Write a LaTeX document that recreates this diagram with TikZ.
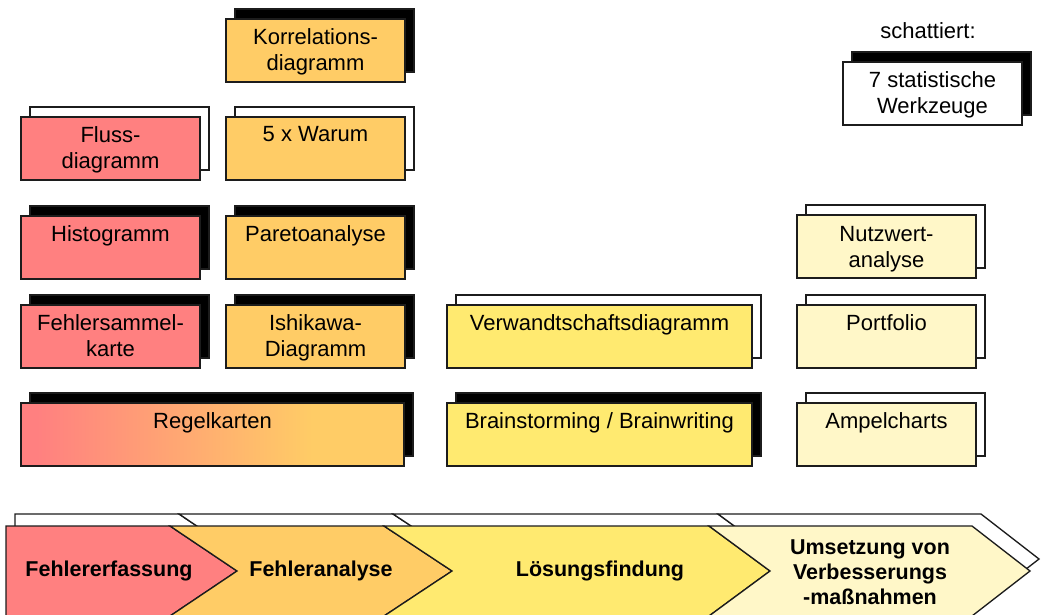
\documentclass[tikz,border=0pt]{standalone}
\usepackage{fontspec}
\setmainfont{Liberation Sans}
\usetikzlibrary{shadows,calc}

\definecolor{fehlred}{RGB}{255,128,128}
\definecolor{analorange}{RGB}{255,204,102}
\definecolor{loesyellow}{RGB}{255,234,112}
\definecolor{umscream}{RGB}{255,247,200}
\definecolor{edge}{RGB}{28,28,28}

% red fading into orange over the first three quarters
\pgfdeclarehorizontalshading{regelshade}{100bp}{color(0bp)=(fehlred); color(27bp)=(fehlred); color(63bp)=(analorange); color(100bp)=(analorange)}

\tikzset{
  card/.style={draw=edge, line width=1pt, inner sep=0pt, outer sep=0pt,
    anchor=north west, minimum height=47.25pt},
  cardS/.style={card, minimum width=134.25pt},
  cardM/.style={card, minimum width=228.75pt},
  cardL/.style={card, minimum width=287.25pt},
  hardshadow/.style={copy shadow={shadow xshift=6.75pt, shadow yshift=7.5pt,
    fill=black, draw=edge, line width=1pt}},
  softshadow/.style={copy shadow={shadow xshift=6.75pt, shadow yshift=7.5pt,
    fill=white, draw=edge, line width=1pt}},
  cardtext/.style={anchor=north, inner sep=0pt, align=center,
    font=\fontsize{16.5pt}{19.5pt}\selectfont},
  phase/.style={draw=edge, line width=1pt, line join=miter},
  phaseshadow/.style={draw=edge, line width=1pt, fill=white, xshift=6.75pt, yshift=9pt},
  phasetext/.style={inner sep=0pt, align=center,
    font=\fontsize{16.1pt}{18.75pt}\selectfont\bfseries},
}

\begin{document}
\begin{tikzpicture}[x=0.75pt, y=-0.75pt]
  \useasboundingbox (0,0) rectangle (1041,614);
  \clip (0,0) rectangle (1041,614);

  % legend
  \node[cardtext, anchor=center] (legend) at (928,31) {schattiert:};
  \node[cardS, hardshadow, fill=white] (werkz) at (843,62) {};
  \node[cardtext] (werkz-t) at ([yshift=-6.75pt]werkz.north) {7 statistische\\Werkzeuge};

  % column: error capture
  \node[cardS, softshadow, fill=fehlred] (fluss) at (21,117) {};
  \node[cardtext] (fluss-t) at ([yshift=-6.75pt]fluss.north) {Fluss-\\diagramm};
  \node[cardS, hardshadow, fill=fehlred] (hist) at (21,216) {};
  \node[cardtext] (hist-t) at ([yshift=-6.75pt]hist.north) {Histogramm};
  \node[cardS, hardshadow, fill=fehlred] (fsk) at (21,305) {};
  \node[cardtext] (fsk-t) at ([yshift=-6.75pt]fsk.north) {Fehlersammel-\\karte};

  % column: error analysis
  \node[cardS, hardshadow, fill=analorange] (korr) at (226,19) {};
  \node[cardtext] (korr-t) at ([yshift=-6.75pt]korr.north) {Korrelations-\\diagramm};
  \node[cardS, softshadow, fill=analorange] (warum) at (226,117) {};
  \node[cardtext] (warum-t) at ([yshift=-6.75pt]warum.north) {5 x Warum};
  \node[cardS, hardshadow, fill=analorange] (pareto) at (226,216) {};
  \node[cardtext] (pareto-t) at ([yshift=-6.75pt]pareto.north) {Paretoanalyse};
  \node[cardS, hardshadow, fill=analorange] (ishi) at (226,305) {};
  \node[cardtext] (ishi-t) at ([yshift=-6.75pt]ishi.north) {Ishikawa-\\Diagramm};

  % spanning both columns
  \node[cardL, hardshadow, shading=regelshade] (regel) at (21,403) {};
  \node[cardtext] (regel-t) at ([yshift=-6.75pt]regel.north) {Regelkarten};

  % column: finding solutions
  \node[cardM, softshadow, fill=loesyellow] (verw) at (447,305) {};
  \node[cardtext] (verw-t) at ([yshift=-6.75pt]verw.north) {Verwandtschaftsdiagramm};
  \node[cardM, hardshadow, fill=loesyellow] (brain) at (447,403) {};
  \node[cardtext] (brain-t) at ([yshift=-6.75pt]brain.north) {Brainstorming / Brainwriting};

  % column: implementation
  \node[cardS, softshadow, fill=umscream] (nutz) at (797,215) {};
  \node[cardtext] (nutz-t) at ([yshift=-8.25pt]nutz.north) {Nutzwert-\\analyse};
  \node[cardS, softshadow, fill=umscream] (portf) at (797,305) {};
  \node[cardtext] (portf-t) at ([yshift=-6.75pt]portf.north) {Portfolio};
  \node[cardS, softshadow, fill=umscream] (ampel) at (797,403) {};
  \node[cardtext] (ampel-t) at ([yshift=-6.75pt]ampel.north) {Ampelcharts};

  % phase chevrons: white copies behind
  \begin{scope}[phaseshadow]
    \draw[fill=white] (6,526) -- (170,526) -- (237,571) -- (170,616) -- (6,616) -- cycle;
    \draw[fill=white] (170,526) -- (384,526) -- (452,571) -- (384,616) -- (170,616) -- (237,571) -- cycle;
    \draw[fill=white] (384,526) -- (709,526) -- (770,571) -- (709,616) -- (384,616) -- (452,571) -- cycle;
    \draw[fill=white] (709,526) -- (972,526) -- (1030,571) -- (972,616) -- (709,616) -- (770,571) -- cycle;
  \end{scope}

  % phase chevrons
  \draw[phase, fill=fehlred] (6,526) -- (170,526) -- (237,571) -- (170,616) -- (6,616) -- cycle;
  \draw[phase, fill=analorange] (170,526) -- (384,526) -- (452,571) -- (384,616) -- (170,616) -- (237,571) -- cycle;
  \draw[phase, fill=loesyellow] (384,526) -- (709,526) -- (770,571) -- (709,616) -- (384,616) -- (452,571) -- cycle;
  \draw[phase, fill=umscream] (709,526) -- (972,526) -- (1030,571) -- (972,616) -- (709,616) -- (770,571) -- cycle;

  \node[phasetext] (ph1) at (109,571) {Fehlererfassung};
  \node[phasetext] (ph2) at (321,571) {Fehleranalyse};
  \node[phasetext] (ph3) at (600,571) {Lösungsfindung};
  \node[phasetext] (ph4) at (870,572) {Umsetzung von\\Verbesserungs\\-maßnahmen};
\end{tikzpicture}
\end{document}
